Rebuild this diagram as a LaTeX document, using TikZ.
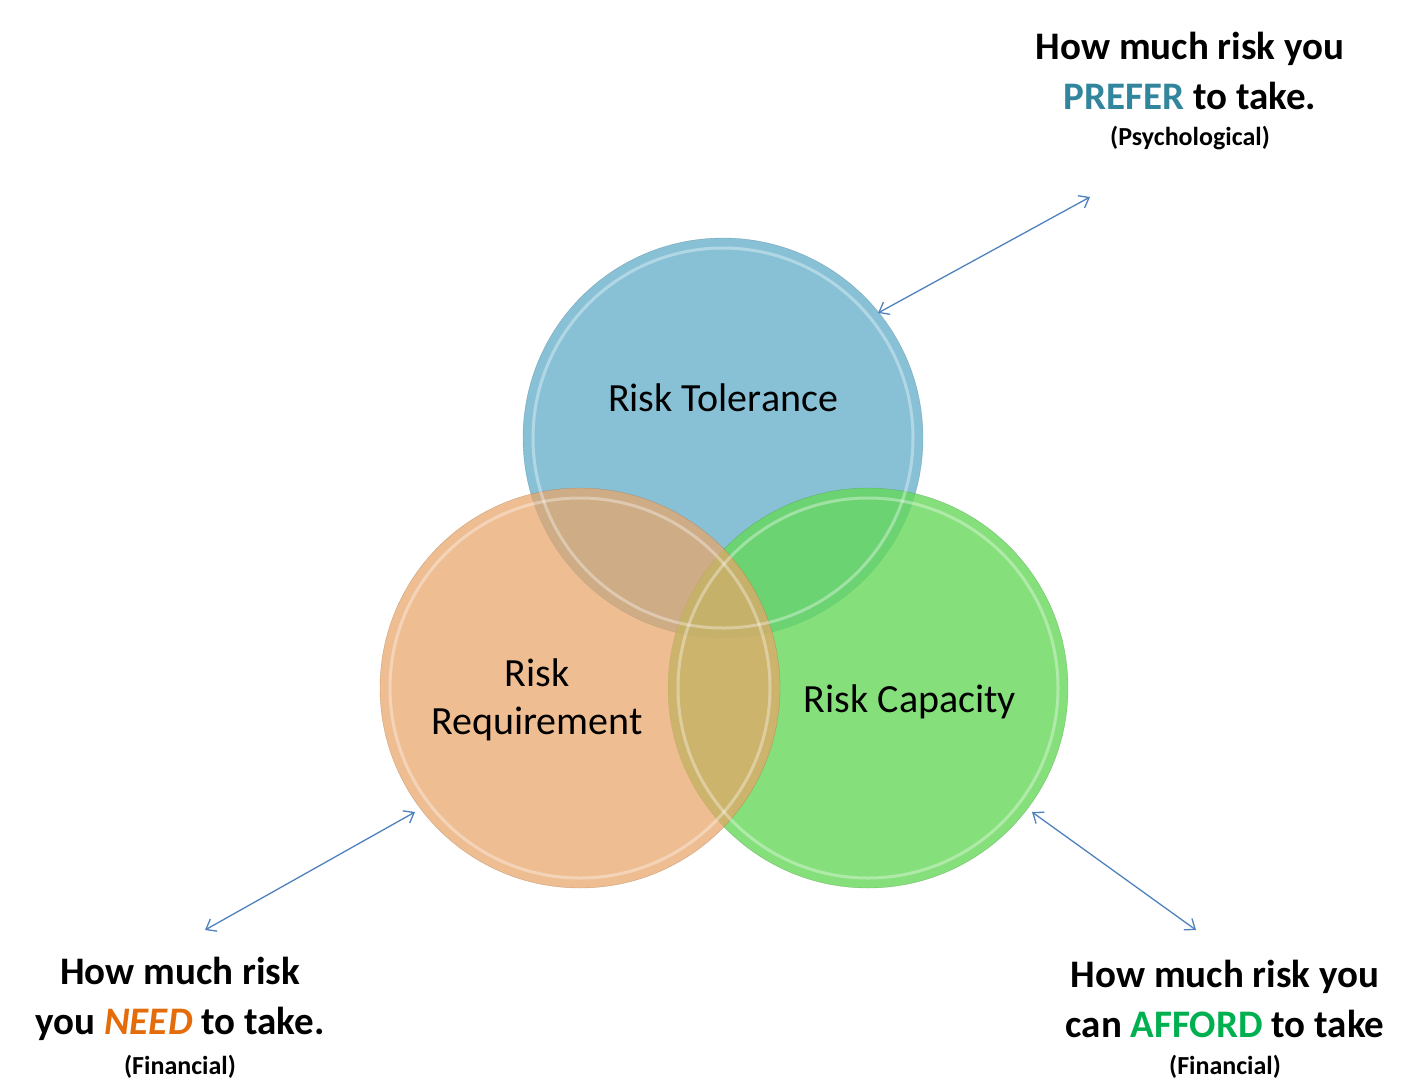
\documentclass[tikz,border=0pt]{standalone}
\usepackage{fontspec}
\setmainfont{Carlito}
\usetikzlibrary{arrows.meta}
\definecolor{tolc}{HTML}{6AB2CC}
\definecolor{reqc}{HTML}{E9A468}
\definecolor{capc}{HTML}{66D85A}
\definecolor{arrc}{HTML}{4F81BD}
\definecolor{prefc}{HTML}{31859C}
\definecolor{needc}{HTML}{E46C0A}
\definecolor{affc}{HTML}{00B050}
\tikzset{
  circ/.style={circle,minimum size=400pt,inner sep=0pt,fill opacity=0.8,text opacity=1},
  lbl/.style={font=\fontsize{40}{48}\selectfont,align=center},
  big/.style={font=\bfseries\fontsize{39}{50}\selectfont,align=center},
  small/.style={font=\bfseries\fontsize{26}{28}\selectfont},
  arr/.style={arrc,line width=1.3pt,{Straight Barb[length=9pt,width=14pt]}-{Straight Barb[length=9pt,width=14pt]}}
}
\begin{document}
\begin{tikzpicture}[x=1pt,y=-1pt]
\useasboundingbox (0,0) rectangle (1423,1085);
\node[circ,fill=tolc,draw=tolc!70!black,draw opacity=0.5] (tol) at (723,438) {};
\node[circ,fill=capc,draw=capc!70!black,draw opacity=0.5] (cap) at (868,688) {};
\node[circ,fill=reqc,draw=reqc!70!black,draw opacity=0.5,fill opacity=0.72] (req) at (580,688) {};
\foreach \n in {tol,req,cap}{\draw[white,opacity=0.35,line width=3pt] (\n.center) circle (190pt);}
\node[lbl] (tolt) at (723,398) {Risk Tolerance};
\node[lbl] (reqt) at (537,700) {Risk\\Requirement};
\node[lbl] (capt) at (910,702) {Risk Capacity};
\coordinate (a1) at (1090,197);
\coordinate (a2) at (205,930);
\coordinate (a3) at (1196,930);
\coordinate (b1) at (878,313);
\coordinate (b2) at (415,812);
\coordinate (b3) at (1032,812);
\draw[arr] (b1) -- (a1);
\draw[arr] (b2) -- (a2);
\draw[arr] (b3) -- (a3);
\node[big] (t1) at (1190,71) {How much risk you\\\textcolor{prefc}{PREFER} to take.};
\node[small] (s1) at (1190,138) {(Psychological)};
\node[big] (t2) at (180,999) {How much risk\\you \textcolor{needc}{\itshape NEED} to take.};
\node[small] (s2) at (180,1067) {(Financial)};
\node[big] (t3) at (1225,999) {How much risk you\\can \textcolor{affc}{AFFORD} to take};
\node[small] (s3) at (1225,1067) {(Financial)};
\end{tikzpicture}
\end{document}
